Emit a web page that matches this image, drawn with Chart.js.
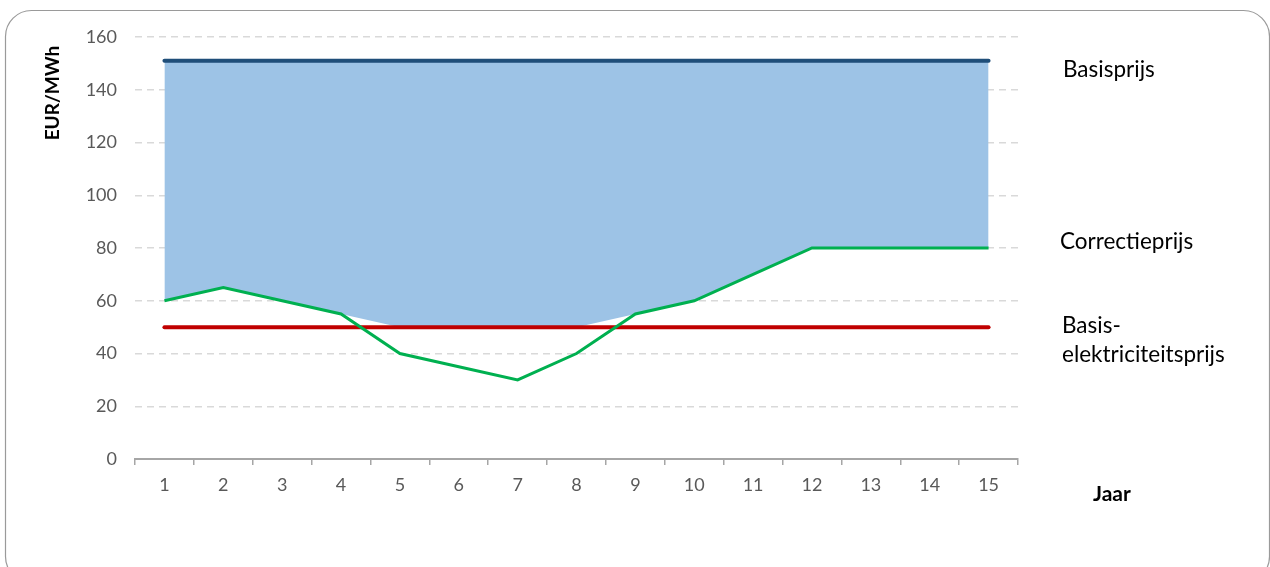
<!DOCTYPE html>
<html>
<head>
<meta charset="utf-8">
<script src="https://cdn.jsdelivr.net/npm/chart.js@4.4.1/dist/chart.umd.min.js"></script>
<style>
  html, body { margin: 0; padding: 0; background: #ffffff; }
  #wrap { width: 1270px; height: 567px; position: relative; }
</style>
</head>
<body>
<div id="wrap"><canvas id="c" width="1270" height="567"></canvas></div>
<script>
const years = ['1','2','3','4','5','6','7','8','9','10','11','12','13','14','15'];
const basisprijs = [151,151,151,151,151,151,151,151,151,151,151,151,151,151,151];
const correctieprijs = [60,65,60,55,40,35,30,40,55,60,70,80,80,80,80];
const basisElektriciteitsprijs = [50,50,50,50,50,50,50,50,50,50,50,50,50,50,50];
const fillOndergrens = [60,65,60,55,50,50,50,50,55,60,70,80,80,80,80];
const yTicks = [0,20,40,60,80,100,120,140,160];

const FONT = 'Lato, "Liberation Sans", sans-serif';

const decor = {
  id: 'decor',
  beforeDraw(chart) {
    const ctx = chart.ctx;
    ctx.save();
    ctx.strokeStyle = '#9a9a9a';
    ctx.lineWidth = 1.2;
    ctx.beginPath();
    ctx.roundRect(5.5, 10.5, 1264, 572, 26);
    ctx.stroke();
    ctx.restore();
  },
  afterDraw(chart) {
    const ctx = chart.ctx;
    ctx.save();
    ctx.fillStyle = '#000000';
    ctx.textBaseline = 'middle';
    ctx.textAlign = 'left';
    ctx.font = '22.5px ' + FONT;
    ctx.fillText('Basisprijs', 1063, 70);
    ctx.fillText('Correctieprijs', 1060, 242);
    ctx.fillText('Basis-', 1062, 326);
    ctx.fillText('elektriciteitsprijs', 1062, 355);
    ctx.font = 'bold 21px ' + FONT;
    ctx.fillText('Jaar', 1093, 494);
    ctx.font = 'bold 19px ' + FONT;
    ctx.translate(53, 93);
    ctx.rotate(-Math.PI / 2);
    ctx.textAlign = 'center';
    ctx.fillText('EUR/MWh', 0, 0);
    ctx.restore();
  }
};

new Chart(document.getElementById('c'), {
  type: 'line',
  data: {
    labels: years,
    datasets: [
      {
        label: 'Correctieprijs',
        data: correctieprijs,
        borderColor: '#00b050',
        borderWidth: 3,
        pointRadius: 0,
        fill: false,
        order: 0
      },
      {
        label: 'Basis-elektriciteitsprijs',
        data: basisElektriciteitsprijs,
        borderColor: '#c00000',
        borderWidth: 4,
        borderCapStyle: 'round',
        pointRadius: 0,
        fill: false,
        order: 1
      },
      {
        label: 'Basisprijs',
        data: basisprijs,
        borderColor: '#1f4e79',
        borderWidth: 4,
        borderCapStyle: 'round',
        pointRadius: 0,
        backgroundColor: '#9dc3e6',
        fill: { target: 3 },
        order: 2
      },
      {
        label: 'ondergrens',
        data: fillOndergrens,
        borderWidth: 0,
        borderColor: 'rgba(0,0,0,0)',
        pointRadius: 0,
        fill: false,
        order: 3
      }
    ]
  },
  options: {
    responsive: false,
    animation: false,
    events: [],
    layout: { padding: { left: 0, right: 252, top: 37, bottom: 0 } },
    plugins: {
      legend: { display: false },
      tooltip: { enabled: false },
      filler: { propagate: false }
    },
    scales: {
      x: {
        offset: true,
        grid: {
          offset: true,
          drawOnChartArea: false,
          drawTicks: true,
          tickLength: 6,
          color: '#a6a6a6',
          lineWidth: 1.5
        },
        border: { display: true, color: '#a6a6a6', width: 2 },
        ticks: {
          color: '#595959',
          font: { family: FONT, size: 18 },
          padding: 9,
          maxRotation: 0,
          autoSkip: false
        },
        afterFit(scale) { scale.height = 108; }
      },
      y: {
        min: 0,
        max: 160,
        afterBuildTicks(scale) { scale.ticks = yTicks.map(v => ({ value: v })); },
        grid: {
          color: '#d9d9d9',
          lineWidth: 1.5,
          drawTicks: false
        },
        border: { display: false, dash: [7, 5] },
        ticks: {
          color: '#595959',
          font: { family: FONT, size: 18 },
          padding: 18
        },
        afterFit(scale) { scale.width = 135; }
      }
    }
  },
  plugins: [decor]
});
</script>
</body>
</html>
